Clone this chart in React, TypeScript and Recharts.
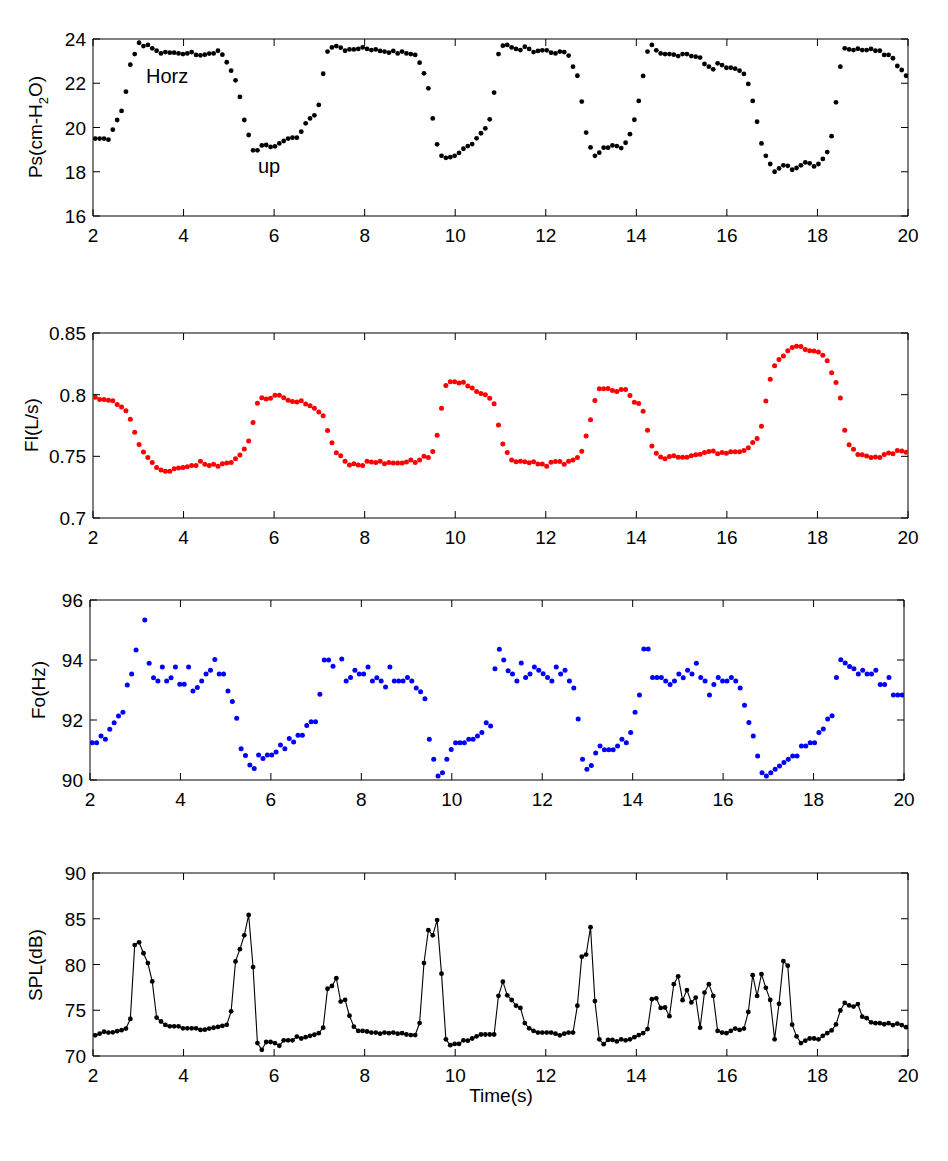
import React from 'react'
import { ComposedChart, Scatter, Line, XAxis, YAxis, ReferenceArea } from 'recharts'

// analysis frames: first frame time and hop (s)
const FRAME_START = 2.05
const FRAME_STEP = 0.0968

const timeTicks = [2, 4, 6, 8, 10, 12, 14, 16, 18, 20]
const psTicks = [16, 18, 20, 22, 24]
const flTicks = [0.7, 0.75, 0.8, 0.85]
const foTicks = [90, 92, 94, 96]
const splTicks = [70, 75, 80, 85, 90]

// subglottal pressure (cm H2O)
const psValues = [
  19.5, 19.5, 19.5, 19.45, 19.9, 20.34, 20.75, 21.62, 22.84, 23.32,
  23.83, 23.68, 23.73, 23.58, 23.47, 23.35, 23.41, 23.38, 23.38, 23.35,
  23.32, 23.35, 23.41, 23.28, 23.26, 23.29, 23.34, 23.35, 23.47, 23.29,
  22.95, 22.57, 22.13, 21.38, 20.34, 19.66, 18.97, 18.97, 19.19, 19.21,
  19.12, 19.15, 19.28, 19.39, 19.5, 19.54, 19.54, 19.81, 20.19, 20.41,
  20.55, 21.02, 22.43, 23.43, 23.62, 23.68, 23.61, 23.47, 23.53, 23.53,
  23.55, 23.62, 23.55, 23.5, 23.53, 23.46, 23.43, 23.38, 23.46, 23.35,
  23.43, 23.35, 23.32, 23.28, 22.93, 22.45, 21.77, 20.41, 19.24, 18.72,
  18.63, 18.66, 18.72, 18.85, 19.04, 19.16, 19.25, 19.51, 19.74, 19.96,
  20.37, 21.58, 23.32, 23.7, 23.73, 23.62, 23.55, 23.5, 23.65, 23.55,
  23.41, 23.46, 23.49, 23.49, 23.38, 23.35, 23.43, 23.41, 23.25, 22.75,
  22.34, 21.17, 19.77, 19.1, 18.72, 18.86, 19.09, 19.09, 19.19, 19.16,
  19.07, 19.31, 19.7, 20.35, 21.2, 22.33, 23.43, 23.73, 23.49, 23.35,
  23.32, 23.32, 23.29, 23.23, 23.32, 23.32, 23.23, 23.2, 23.16, 22.87,
  22.75, 22.63, 22.9, 22.82, 22.7, 22.7, 22.66, 22.57, 22.42, 21.97,
  21.2, 20.26, 19.28, 18.72, 18.35, 18.0, 18.15, 18.29, 18.27, 18.09,
  18.17, 18.29, 18.42, 18.38, 18.24, 18.35, 18.58, 18.89, 19.61, 21.14,
  22.75, 23.58, 23.53, 23.5, 23.56, 23.5, 23.5, 23.55, 23.47, 23.47,
  23.28, 23.28, 23.13, 22.78, 22.6, 22.34,
]

// airflow (L/s)
const flValues = [
  0.798, 0.796, 0.796, 0.7955, 0.795, 0.792, 0.79, 0.787, 0.78, 0.7695,
  0.7595, 0.7535, 0.749, 0.745, 0.741, 0.739, 0.738, 0.738, 0.74, 0.7405,
  0.741, 0.7415, 0.7425, 0.7425, 0.746, 0.7435, 0.7425, 0.7435, 0.742, 0.744,
  0.7445, 0.745, 0.748, 0.751, 0.756, 0.7625, 0.7775, 0.793, 0.7975, 0.7965,
  0.797, 0.7995, 0.7995, 0.7975, 0.7955, 0.7945, 0.794, 0.795, 0.7925, 0.791,
  0.789, 0.786, 0.783, 0.771, 0.761, 0.753, 0.7505, 0.746, 0.743, 0.744,
  0.743, 0.7425, 0.746, 0.7455, 0.745, 0.746, 0.744, 0.745, 0.7445, 0.7445,
  0.7445, 0.7455, 0.747, 0.745, 0.747, 0.75, 0.749, 0.754, 0.767, 0.789,
  0.8075, 0.8105, 0.8105, 0.8095, 0.81, 0.807, 0.8055, 0.8025, 0.801, 0.8,
  0.797, 0.7926, 0.7754, 0.7599, 0.7532, 0.747, 0.7456, 0.7461, 0.7456, 0.7448,
  0.7456, 0.7438, 0.7438, 0.7419, 0.7453, 0.7458, 0.7458, 0.7436, 0.7461, 0.747,
  0.749, 0.7542, 0.7665, 0.7796, 0.7953, 0.8047, 0.8047, 0.8049, 0.8034, 0.8025,
  0.8042, 0.8042, 0.7993, 0.7938, 0.7929, 0.7865, 0.7712, 0.7584, 0.7525, 0.7495,
  0.748, 0.7498, 0.7505, 0.7493, 0.7493, 0.7493, 0.7505, 0.7512, 0.7517, 0.7532,
  0.7539, 0.7544, 0.752, 0.7532, 0.7525, 0.7537, 0.7537, 0.7537, 0.7547, 0.7569,
  0.7613, 0.7645, 0.7744, 0.7948, 0.8126, 0.8234, 0.8286, 0.8313, 0.8357, 0.8382,
  0.8393, 0.839, 0.8367, 0.8357, 0.8355, 0.8345, 0.832, 0.8276, 0.8177, 0.8099,
  0.7973, 0.7712, 0.7594, 0.7557, 0.7515, 0.7512, 0.7502, 0.749, 0.7495, 0.749,
  0.7515, 0.7527, 0.752, 0.7547, 0.7544, 0.7534,
]

// fundamental frequency (Hz), null = no estimate for that frame
const foValues = [
  91.24, 91.24, 91.47, 91.36, 91.69, 91.91, 92.13, 92.26, 93.17, 93.53,
  94.33, null, 95.33, 93.89, 93.41, 93.3, 93.77, 93.3, 93.41, 93.77,
  93.19, 93.19, 93.77, 92.97, 93.08, 93.3, 93.53, 93.66, 94.02, 93.53,
  93.53, 92.97, 92.62, 92.06, 91.04, 90.82, 90.5, 90.38, 90.83, 90.72,
  90.83, 90.83, 90.93, 91.17, 91.04, 91.38, 91.27, 91.49, 91.49, 91.82,
  91.94, 91.94, 92.86, 94.0, 94.0, 93.79, null, 94.03, 93.3, 93.42,
  93.66, 93.53, 93.53, 93.77, 93.3, 93.41, 93.3, 93.1, 93.77, 93.3,
  93.3, 93.3, 93.42, 93.3, 93.07, 92.94, 92.71, 91.36, 90.69, 90.13,
  90.24, 90.69, 91.02, 91.24, 91.24, 91.24, 91.36, 91.36, 91.47, 91.58,
  91.91, 91.8, 93.71, 94.36, 94.0, 93.64, 93.53, 93.3, 93.9, 93.42,
  93.53, 93.77, 93.66, 93.54, 93.42, 93.3, 93.77, 93.53, 93.66, 93.3,
  93.07, 92.03, 90.69, 90.36, 90.48, 90.9, 91.13, 91.01, 91.01, 91.01,
  91.13, 91.36, 91.24, 91.58, 92.26, 92.83, 94.37, 94.37, 93.42, 93.42,
  93.42, 93.3, 93.18, 93.3, 93.53, 93.41, 93.66, 93.53, 93.89, 93.42,
  93.3, 92.83, 93.18, 93.42, 93.3, 93.3, 93.42, 93.3, 93.07, 92.49,
  91.92, 91.47, 90.8, 90.24, 90.13, 90.24, 90.36, 90.47, 90.58, 90.69,
  90.8, 90.8, 91.13, 91.13, 91.24, 91.24, 91.58, 91.7, 92.03, 92.14,
  93.42, 94.01, 93.9, 93.78, 93.71, 93.53, 93.66, 93.53, 93.53, 93.66,
  93.18, 93.18, 93.42, 92.83, 92.83, 92.83,
]

// sound pressure level (dB)
const splValues = [
  72.26, 72.44, 72.65, 72.56, 72.59, 72.71, 72.82, 73.0, 74.05, 82.12,
  82.42, 81.23, 80.16, 78.15, 74.2, 73.77, 73.4, 73.24, 73.24, 73.24,
  73.03, 73.03, 73.03, 73.03, 72.85, 72.88, 73.0, 73.09, 73.18, 73.29,
  73.41, 74.88, 80.34, 81.68, 83.19, 85.42, 79.72, 71.41, 70.68, 71.53,
  71.53, 71.41, 71.12, 71.71, 71.71, 71.71, 72.12, 71.91, 72.06, 72.21,
  72.32, 72.5, 73.1, 77.35, 77.65, 78.5, 75.95, 76.13, 74.4, 73.2,
  72.74, 72.74, 72.68, 72.56, 72.56, 72.44, 72.56, 72.5, 72.56, 72.44,
  72.5, 72.35, 72.29, 72.29, 73.6, 80.16, 83.75, 83.19, 84.85, 79.0,
  71.82, 71.18, 71.32, 71.32, 71.71, 71.68, 71.91, 72.15, 72.35, 72.35,
  72.35, 72.35, 76.58, 78.12, 76.63, 76.12, 75.5, 75.25, 73.6, 73.03,
  72.74, 72.56, 72.56, 72.56, 72.56, 72.44, 72.26, 72.44, 72.56, 72.56,
  75.5, 80.85, 81.08, 84.08, 76.0, 71.82, 71.29, 71.76, 71.76, 71.59,
  71.82, 71.71, 71.82, 72.06, 72.29, 72.5, 72.94, 76.2, 76.3, 75.25,
  75.3, 74.35, 77.85, 78.71, 76.1, 77.2, 75.85, 76.39, 73.1, 76.93,
  77.85, 76.57, 72.74, 72.56, 72.5, 72.74, 73.0, 72.85, 73.0, 74.82,
  78.83, 76.57, 78.95, 77.45, 76.12, 71.82, 75.7, 80.37, 79.87, 73.42,
  72.15, 71.41, 71.68, 71.91, 71.91, 71.82, 72.21, 72.5, 72.79, 73.45,
  74.97, 75.8, 75.53, 75.4, 75.68, 74.3, 74.13, 73.68, 73.59, 73.59,
  73.47, 73.59, 73.38, 73.53, 73.38, 73.15,
]

function toRows(values: (number | null)[]) {
  return values
    .map((v, i) => ({ t: FRAME_START + i * FRAME_STEP, v }))
    .filter((r) => r.v !== null)
}

const psRows = toRows(psValues)
const flRows = toRows(flValues)
const foRows = toRows(foValues)
const splRows = toRows(splValues)

const FONT = '"Liberation Sans", Arial, Helvetica, sans-serif'
const TICK_FONT = 19
const TICK_LEN = 7
const PAD_TOP = 12
const PAD_BOTTOM = 40
const PAGE_W = 948
const Y_AXIS_W = 60
const X_AXIS_H = 30

function XTick(props: any) {
  const { x, y, payload, top } = props
  return (
    <g>
      <line x1={x} x2={x} y1={y} y2={y - TICK_LEN} stroke="#000" />
      <line x1={x} x2={x} y1={top} y2={top + TICK_LEN} stroke="#000" />
      <text x={x} y={y + 26} textAnchor="middle" fontSize={TICK_FONT} fontFamily={FONT} fill="#000">
        {payload.value}
      </text>
    </g>
  )
}

function YTick(props: any) {
  const { x, y, payload, right } = props
  return (
    <g>
      <line x1={x} x2={x + TICK_LEN} y1={y} y2={y} stroke="#000" />
      <line x1={right} x2={right - TICK_LEN} y1={y} y2={y} stroke="#000" />
      <text x={x - 7} y={y + 7} textAnchor="end" fontSize={TICK_FONT} fontFamily={FONT} fill="#000">
        {payload.value}
      </text>
    </g>
  )
}

type PanelProps = {
  left: number
  right: number
  top: number
  bottom: number
  domain: [number, number]
  ticks: number[]
  data?: any[]
  children: React.ReactNode
}

function Panel({ left, right, top, bottom, domain, ticks, data, children }: PanelProps) {
  const height = bottom - top + PAD_TOP + PAD_BOTTOM
  return (
    <div style={{ position: 'absolute', left: 0, top: top - PAD_TOP }}>
      <ComposedChart
        width={PAGE_W}
        height={height}
        data={data}
        margin={{ top: PAD_TOP, right: PAGE_W - right, bottom: PAD_BOTTOM - X_AXIS_H, left: left - Y_AXIS_W }}
      >
        <XAxis
          type="number"
          dataKey="t"
          domain={[2, 20]}
          ticks={timeTicks}
          interval={0}
          allowDataOverflow
          height={X_AXIS_H}
          tickSize={0}
          tickMargin={0}
          axisLine={false}
          tickLine={false}
          tick={(p: any) => <XTick {...p} top={PAD_TOP} />}
        />
        <YAxis
          type="number"
          dataKey="v"
          domain={domain}
          ticks={ticks}
          interval={0}
          allowDataOverflow
          width={Y_AXIS_W}
          tickSize={0}
          tickMargin={0}
          axisLine={false}
          tickLine={false}
          tick={(p: any) => <YTick {...p} right={right} />}
        />
        <ReferenceArea x1={2} x2={20} y1={domain[0]} y2={domain[1]} fill="none" stroke="#000" strokeWidth={1} />
        {children}
      </ComposedChart>
    </div>
  )
}

const dotShape = (color: string, r: number) => (p: any) => <circle cx={p.cx} cy={p.cy} r={r} fill={color} />

function AxisTitle({ x, y, children }: { x: number; y: number; children: React.ReactNode }) {
  return (
    <text
      transform={`translate(${x},${y}) rotate(-90)`}
      textAnchor="middle"
      fontSize={19}
      fontFamily={FONT}
      fill="#000"
    >
      {children}
    </text>
  )
}

export default function App() {
  return (
    <div style={{ position: 'absolute', left: 0, top: 0, width: PAGE_W, height: 1161, background: '#fff' }}>
      <Panel left={93} right={908} top={39} bottom={216} domain={[16, 24]} ticks={psTicks}>
        <Scatter data={psRows} dataKey="v" shape={dotShape('#000', 2.4)} isAnimationActive={false} />
      </Panel>
      <Panel left={93} right={908} top={333} bottom={518} domain={[0.7, 0.85]} ticks={flTicks}>
        <Scatter data={flRows} dataKey="v" shape={dotShape('#ff0000', 2.5)} isAnimationActive={false} />
      </Panel>
      <Panel left={90} right={904} top={600} bottom={780} domain={[90, 96]} ticks={foTicks}>
        <Scatter data={foRows} dataKey="v" shape={dotShape('#0000ff', 2.5)} isAnimationActive={false} />
      </Panel>
      <Panel left={93} right={908} top={873} bottom={1056} domain={[70, 90]} ticks={splTicks} data={splRows}>
        <Line
          type="linear"
          dataKey="v"
          stroke="#000"
          strokeWidth={1.1}
          dot={{ r: 2.4, fill: '#000', stroke: '#000', strokeWidth: 0 }}
          activeDot={false}
          isAnimationActive={false}
        />
      </Panel>
      <svg width={PAGE_W} height={1161} style={{ position: 'absolute', left: 0, top: 0, pointerEvents: 'none' }}>
        <AxisTitle x={42} y={127}>
          Ps(cm-H<tspan dy={6} fontSize={13}>2</tspan><tspan dy={-6}>O)</tspan>
        </AxisTitle>
        <AxisTitle x={38} y={425}>Fl(L/s)</AxisTitle>
        <AxisTitle x={45} y={690}>Fo(Hz)</AxisTitle>
        <AxisTitle x={42} y={965}>SPL(dB)</AxisTitle>
        <text x={146} y={83} fontSize={20} fontFamily={FONT} fill="#000">Horz</text>
        <text x={258} y={173} fontSize={20} fontFamily={FONT} fill="#000">up</text>
        <text x={501} y={1102} textAnchor="middle" fontSize={19} fontFamily={FONT} fill="#000">Time(s)</text>
      </svg>
    </div>
  )
}
